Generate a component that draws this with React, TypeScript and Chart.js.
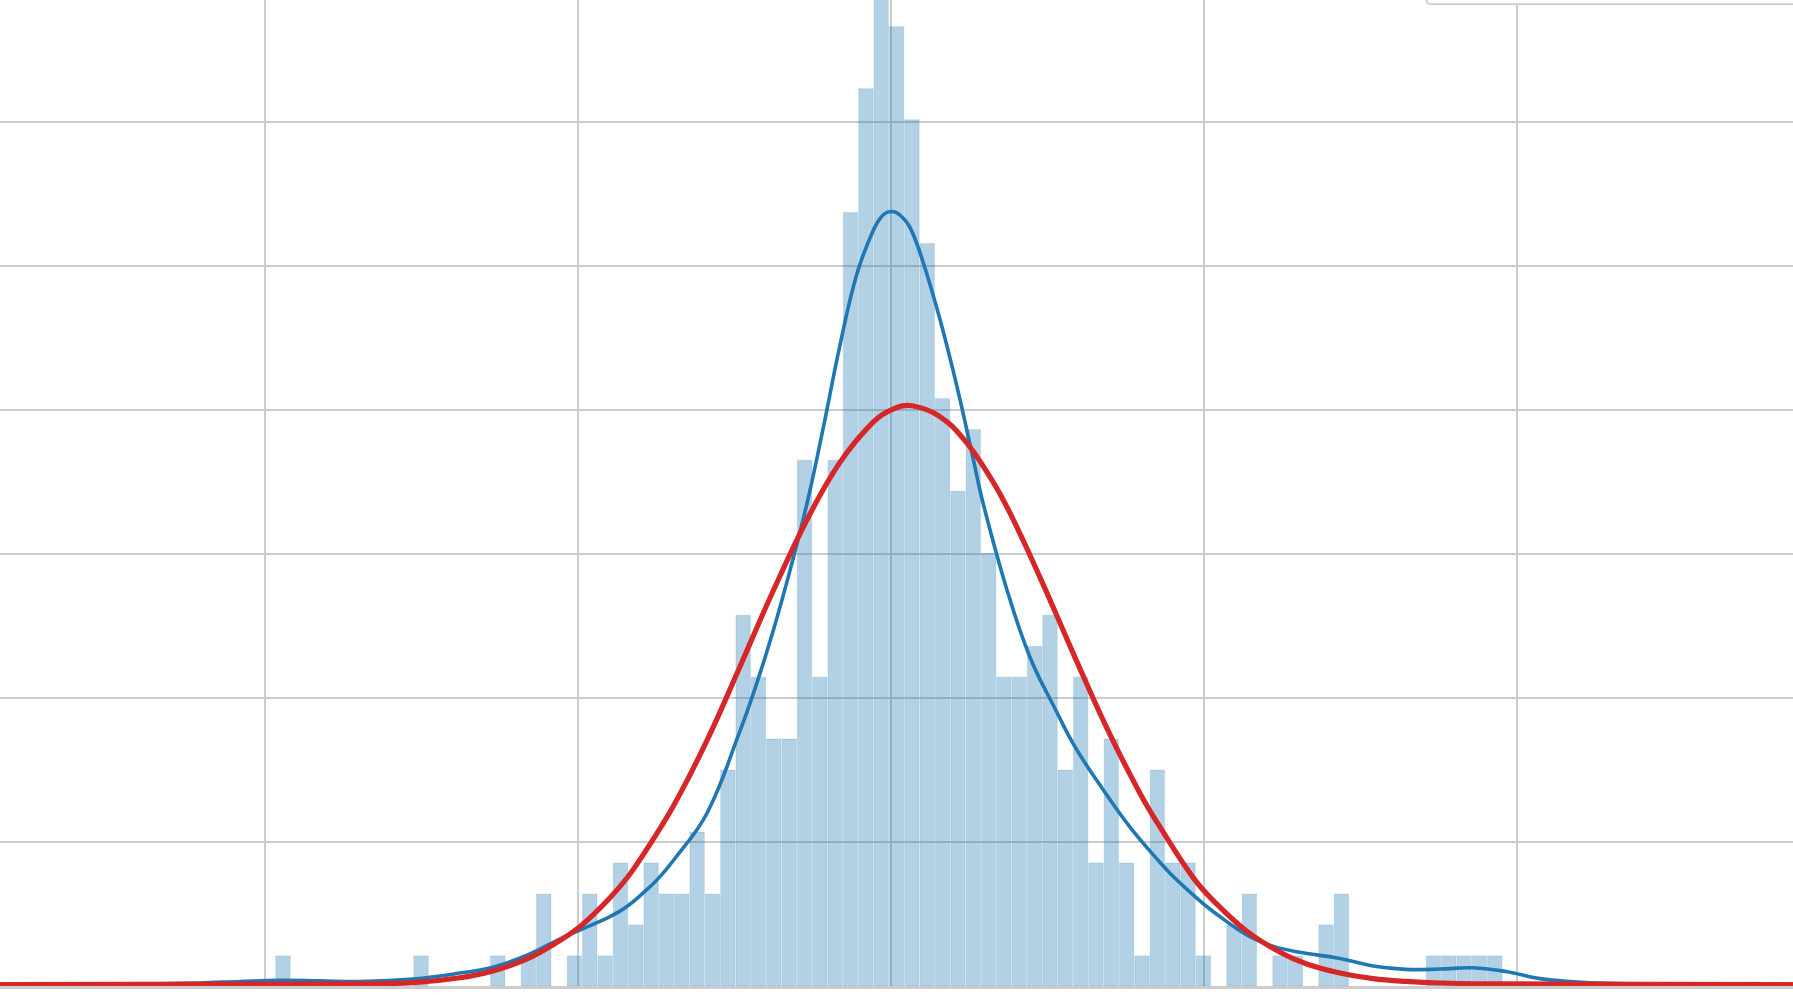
import React, { useEffect, useRef } from 'react';
import { Chart, registerables } from 'chart.js';

Chart.register(...registerables);

// ---- Data ----
// Histogram: 80 equal-width bins (x in axis units, y in counts)
const BIN_START = -1.9655;
const BIN_WIDTH = 0.04897;
const BIN_COUNTS = [
  1, 0, 0, 0, 0, 0, 0, 0, 0, 1,
  0, 0, 0, 0, 1, 0, 1, 3, 0, 1,
  3, 1, 4, 2, 4, 3, 3, 5, 3, 7,
  12, 10, 8, 8, 17, 10, 17, 25, 29, 33,
  31, 28, 24, 19, 16, 18, 14, 10, 10, 11,
  12, 7, 10, 4, 8, 4, 1, 7, 4, 4,
  1, 0, 2, 3, 0, 1, 1, 0, 2, 3,
  0, 0, 0, 0, 0, 1, 1, 1, 1, 1,
];

// Kernel density estimate (blue)
const KDE_X = [
  -2.844, -2.366, -2.206, -2.078, -1.95, -1.823, -1.695, -1.526, -1.376, -1.271,
  -1.162, -1.057, -0.993, -0.897, -0.843, -0.792, -0.747, -0.696, -0.587, -0.482,
  -0.428, -0.377, -0.322, -0.268, -0.217, -0.163, -0.109, -0.057, -0.026, 0.003,
  0.029, 0.061, 0.102, 0.156, 0.211, 0.262, 0.294, 0.37, 0.444, 0.527,
  0.587, 0.667, 0.763, 0.859, 0.901, 0.977, 1.028, 1.136, 1.219, 1.306,
  1.433, 1.539, 1.644, 1.753, 1.858, 1.963, 2.072, 2.177, 2.283, 2.583, 2.879,
];
const KDE_Y = [
  0.06, 0.08, 0.11, 0.16, 0.2, 0.18, 0.16, 0.24, 0.43, 0.62,
  1.01, 1.53, 1.82, 2.25, 2.58, 3.01, 3.44, 4.05, 5.6, 8.25,
  9.8, 11.45, 13.45, 15.6, 18.0, 20.7, 23.0, 24.4, 24.9, 25.02,
  24.9, 24.5, 23.4, 21.55, 19.35, 17.05, 15.6, 12.81, 10.62, 8.9,
  7.74, 6.5, 5.14, 4.0, 3.55, 2.84, 2.42, 1.66, 1.3, 1.1,
  0.9, 0.66, 0.55, 0.56, 0.6, 0.48, 0.25, 0.15, 0.1, 0.06, 0.06,
];

// Fitted normal curve (red)
const NORM_X = [
  -2.844, -2.014, -1.695, -1.526, -1.376, -1.271, -1.162, -1.057, -1.002, -0.951,
  -0.897, -0.843, -0.801, -0.696, -0.587, -0.482, -0.377, -0.265, -0.163, -0.057,
  0.006, 0.067, 0.156, 0.236, 0.316, 0.38, 0.476, 0.581, 0.69, 0.795,
  0.859, 0.964, 1.028, 1.136, 1.242, 1.325, 1.433, 1.539, 1.644, 1.753,
  1.944, 2.879,
];
const NORM_Y = [
  0.06, 0.07, 0.08, 0.12, 0.28, 0.5, 0.89, 1.48, 1.86, 2.31,
  2.86, 3.5, 4.1, 5.8, 7.95, 10.33, 12.75, 15.13, 16.92, 18.22,
  18.64, 18.75, 18.4, 17.62, 16.45, 15.28, 13.2, 10.77, 8.32, 6.23,
  5.14, 3.52, 2.78, 1.78, 1.1, 0.73, 0.43, 0.25, 0.16, 0.11,
  0.08, 0.06,
];

// Grid positions (no tick labels are visible in the view)
const X_GRID = [-2, -1, 0, 1, 2];
const Y_GRID = [4.65, 9.3, 13.95, 18.6, 23.25, 27.9];

// Visible window of the axes
const X_MIN = -2.8444;
const X_MAX = 2.8795;
const Y_MIN = -0.039;
const Y_MAX = 31.85;

const W = 1793;
const H = 1001;

const legendFramePlugin = {
  id: 'legendFrame',
  afterDraw(chart: any) {
    const { ctx, chartArea } = chart;
    const left = chartArea.right - 366.5;
    const bottom = chartArea.top + 4.3;
    const r = 4;
    ctx.save();
    ctx.beginPath();
    ctx.moveTo(chartArea.right + 20, -20);
    ctx.lineTo(left, -20);
    ctx.lineTo(left, bottom - r);
    ctx.arcTo(left, bottom, left + r, bottom, r);
    ctx.lineTo(chartArea.right + 20, bottom);
    ctx.closePath();
    ctx.fillStyle = 'rgba(255,255,255,0.85)';
    ctx.fill();
    ctx.strokeStyle = '#d0d0d0';
    ctx.lineWidth = 2;
    ctx.stroke();
    ctx.restore();
  },
};

export default function App() {
  const canvasRef = useRef<HTMLCanvasElement | null>(null);

  useEffect(() => {
    const canvas = canvasRef.current;
    if (!canvas) return;

    const histData = BIN_COUNTS.map((c, i) => ({ x: BIN_START + BIN_WIDTH * (i + 0.5), y: c }));
    const kdeData = KDE_X.map((x, i) => ({ x, y: KDE_Y[i] }));
    const normData = NORM_X.map((x, i) => ({ x, y: NORM_Y[i] }));

    const chart = new Chart(canvas, {
      type: 'bar',
      data: {
        datasets: [
          {
            type: 'line',
            label: 'Normal fit',
            data: normData,
            borderColor: '#d62728',
            borderWidth: 5.2,
            pointRadius: 0,
            tension: 0.4,
            borderCapStyle: 'round',
            borderJoinStyle: 'round',
            order: 0,
          } as any,
          {
            type: 'line',
            label: 'KDE',
            data: kdeData,
            borderColor: '#1f77b4',
            borderWidth: 3.6,
            pointRadius: 0,
            tension: 0.4,
            borderCapStyle: 'round',
            borderJoinStyle: 'round',
            order: 1,
          } as any,
          {
            type: 'bar',
            label: 'Histogram',
            data: histData,
            backgroundColor: 'rgba(31,119,180,0.34)',
            borderColor: 'rgba(31,119,180,0.12)',
            borderWidth: (c: any) => (c.raw && c.raw.y > 0 ? 0.8 : 0),
            borderSkipped: false,
            barPercentage: 1,
            categoryPercentage: 1,
            grouped: false,
            order: 2,
          } as any,
        ],
      },
      options: {
        animation: false,
        responsive: false,
        devicePixelRatio: 1,
        layout: { padding: { left: 0, right: 0, top: 0, bottom: H - 987.6 } },
        plugins: {
          legend: { display: false },
          tooltip: { enabled: false },
          title: { display: false },
        },
        scales: {
          x: {
            type: 'linear',
            min: X_MIN,
            max: X_MAX,
            offset: false,
            afterBuildTicks: (s: any) => {
              s.ticks = X_GRID.map((v) => ({ value: v }));
            },
            grid: { color: '#cccccc', lineWidth: 2, drawTicks: false, offset: false },
            ticks: { display: false },
            border: { display: true, color: '#cccccc', width: 3, z: 1 },
          },
          y: {
            type: 'linear',
            min: Y_MIN,
            max: Y_MAX,
            afterBuildTicks: (s: any) => {
              s.ticks = Y_GRID.map((v) => ({ value: v }));
            },
            grid: { color: '#cccccc', lineWidth: 2, drawTicks: false },
            ticks: { display: false },
            border: { display: false },
          },
        },
      } as any,
      plugins: [legendFramePlugin],
    });

    return () => chart.destroy();
  }, []);

  return (
    <div style={{ position: 'fixed', left: 0, top: 0, width: W, height: H, background: '#ffffff' }}>
      <canvas ref={canvasRef} width={W} height={H} style={{ display: 'block', width: W, height: H }} />
    </div>
  );
}
